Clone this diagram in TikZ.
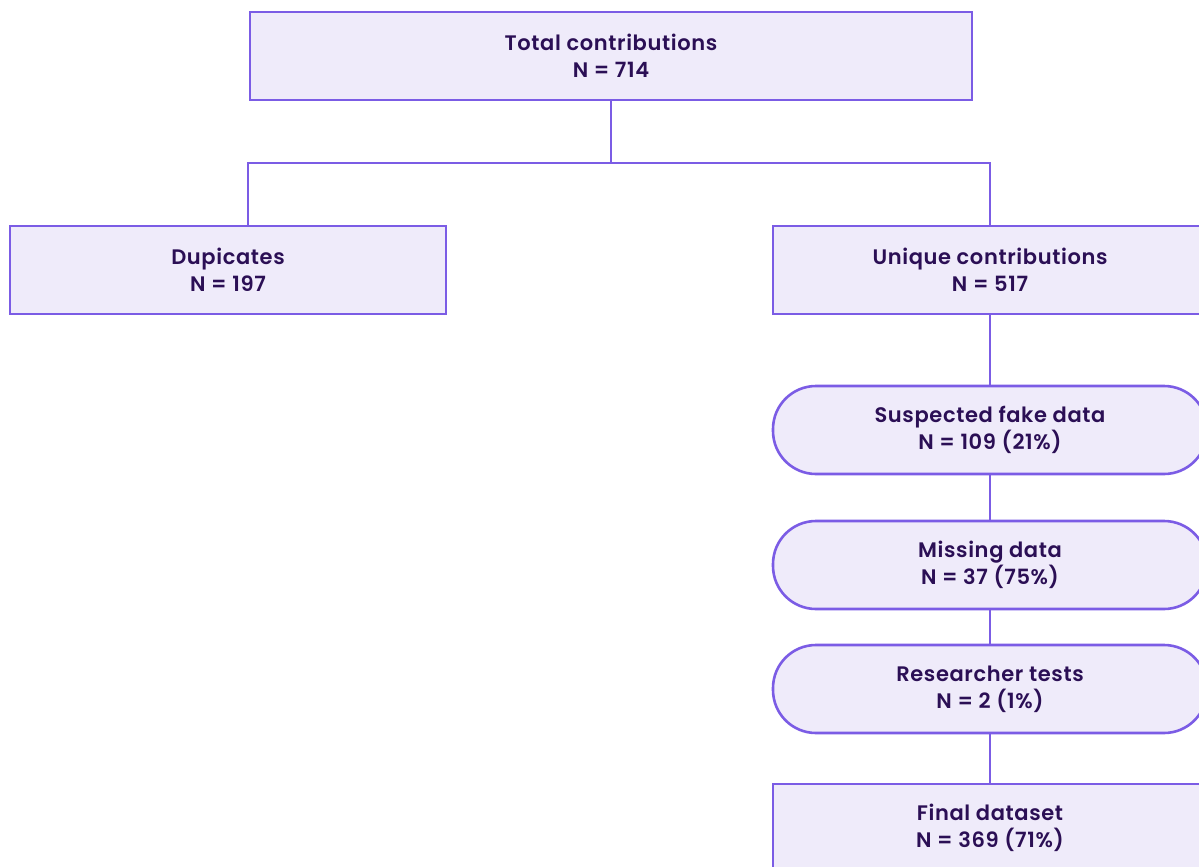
\documentclass[tikz,border=0pt]{standalone}
\usepackage{fontspec}
\setmainfont{Poppins}[UprightFont=* SemiBold,LetterSpace=3]
\usepackage{tikz}
\usetikzlibrary{positioning}
\definecolor{boxline}{HTML}{7B5CE5}
\definecolor{boxfill}{HTML}{EFEBFA}
\definecolor{boxtext}{HTML}{2B0F55}

\begin{document}
\begin{tikzpicture}[x=1pt,y=-1pt]
\tikzset{font={\fontsize{21}{27}\selectfont}}
\tikzset{stage/.style={draw=boxline,fill=boxfill,line width=2.6pt,text=boxtext,align=center,minimum height=88pt,inner sep=0pt}}
\tikzset{filter/.style={stage,rounded corners=43pt}}
\tikzset{link/.style={draw=boxline,line width=2.6pt}}
\useasboundingbox (0,0) rectangle (1199,867);

%Top
\node[stage,minimum width=722pt](total) at (611,56) {Total contributions\\N = 714};

%Split
\node[stage,minimum width=436pt](dup) at (228,270) {Dupicates\\N = 197};
\node[stage,minimum width=434pt](unique) at (990,270) {Unique contributions\\N = 517};
\coordinate(split) at (611,163);
\coordinate(dupin) at (248,226);
\draw[link] (total.south) -- (split);
\draw[link] (dupin) |- (split) -| (unique.north);

%Filters
\node[filter,minimum width=434pt](fake) at (990,430) {Suspected fake data\\N = 109 (21\%)};
\node[filter,minimum width=434pt](missing) at (990,565) {Missing data\\N = 37 (75\%)};
\node[filter,minimum width=434pt](tests) at (990,689) {Researcher tests\\N = 2 (1\%)};
\node[stage,minimum width=434pt](final) at (990,828) {Final dataset\\N = 369 (71\%)};

\draw[link] (unique.south) -- (fake.north);
\draw[link] (fake.south) -- (missing.north);
\draw[link] (missing.south) -- (tests.north);
\draw[link] (tests.south) -- (final.north);

\end{tikzpicture}
\end{document}
